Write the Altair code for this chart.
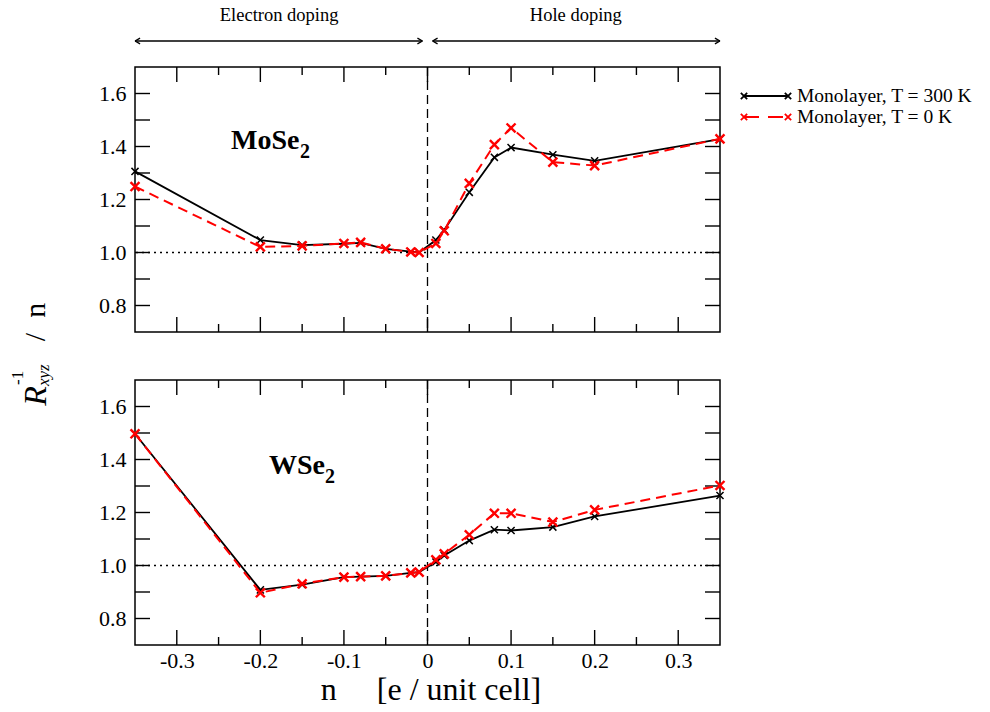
import altair as alt
import pandas as pd

# ---------------- data ----------------
n_vals = [-0.35, -0.2, -0.15, -0.1, -0.08, -0.05, -0.02, -0.01,
          0.01, 0.02, 0.05, 0.08, 0.1, 0.15, 0.2, 0.35]
mose2_T300 = [1.306, 1.047, 1.028, 1.033, 1.036, 1.014, 1.003, 1.000,
              1.047, 1.085, 1.227, 1.359, 1.396, 1.369, 1.346, 1.428]
mose2_T0 = [1.249, 1.021, 1.025, 1.034, 1.038, 1.014, 1.002, 1.000,
            1.034, 1.082, 1.261, 1.407, 1.470, 1.341, 1.328, 1.429]
wse2_T300 = [1.497, 0.908, 0.928, 0.956, 0.958, 0.961, 0.972, 0.975,
             1.013, 1.038, 1.094, 1.135, 1.132, 1.145, 1.185, 1.264]
wse2_T0 = [1.497, 0.897, 0.931, 0.956, 0.958, 0.961, 0.972, 0.975,
           1.021, 1.044, 1.116, 1.197, 1.197, 1.164, 1.210, 1.302]

x_major_ticks = [-0.3, -0.2, -0.1, 0.0, 0.1, 0.2, 0.3]
x_minor_ticks = [-0.25, -0.15, -0.05, 0.05, 0.15, 0.25]
y_ticks = [0.8, 0.9, 1.0, 1.1, 1.2, 1.3, 1.4, 1.5, 1.6]
y_label_values = [0.8, 1.0, 1.2, 1.4, 1.6]
zero_line = [0.0]
unity_line = [1.0]

doping_labels = ["Electron doping", "Hole doping"]
doping_centers = [-0.1775, 0.1775]
arrow_start = [-0.35, 0.006]
arrow_end = [-0.006, 0.35]
legend_labels = ["Monolayer, T = 300 K", "Monolayer, T = 0 K"]
panel_names = ["MoSe", "WSe"]
x_title = "n\u00a0\u00a0\u00a0\u00a0\u00a0[e / unit cell]"

# ---------------- style ----------------
SERIF = "Liberation Serif"
W, H = 585, 265
RED = "#ff0000"
XPATH = "M-1,-1L1,1M-1,1L1,-1"
LEFT_HEAD = "M0,0L1.6,-0.9M0,0L1.6,0.9"
RIGHT_HEAD = "M0,0L-1.6,-0.9M0,0L-1.6,0.9"

xs = alt.Scale(domain=[-0.35, 0.35], nice=False, zero=False)
ys = alt.Scale(domain=[0.7, 1.7], nice=False, zero=False)

LABEL_EXPR = ("datum.value == 0 ? '0' : (datum.value < 0 ? '-' + format(-datum.value, '.1f') "
              ": format(datum.value, '.1f'))")


def x_axis(show):
    if not show:
        return None
    return alt.Axis(values=x_major_ticks, labelExpr=LABEL_EXPR, ticks=False, domain=False,
                    grid=False, labelFont=SERIF, labelFontSize=22, labelColor="black",
                    labelPadding=5, labelFlush=False, labelOverlap=False)


Y_AXIS = alt.Axis(values=y_label_values, format=".1f", ticks=False, domain=False, grid=False,
                  labelFont=SERIF, labelFontSize=22, labelColor="black", labelPadding=9,
                  labelOverlap=False)


def X(field, show):
    return alt.X(f"{field}:Q", scale=xs, axis=x_axis(show), title=None)


def Y(field):
    return alt.Y(f"{field}:Q", scale=ys, axis=Y_AXIS, title=None)


def txt(text, x, y, size, **kw):
    return alt.Chart(pd.DataFrame({"t": [text]})).mark_text(
        font=SERIF, fontSize=size, color="black", **kw
    ).encode(x=alt.value(x), y=alt.value(y), text="t:N")


def panel(v300, v0, show_x, name, name_pos, extra):
    df = pd.DataFrame({"n": n_vals, "v300": v300, "v0": v0})
    dxmaj = pd.DataFrame({"t": x_major_ticks})
    dxmin = pd.DataFrame({"t": x_minor_ticks})
    dyt = pd.DataFrame({"t": y_ticks})
    layers = [
        alt.Chart(pd.DataFrame({"r": unity_line})).mark_rule(
            color="black", strokeWidth=1.3, strokeDash=[2, 4]).encode(y=Y("r")),
        alt.Chart(pd.DataFrame({"z": zero_line})).mark_rule(
            color="black", strokeWidth=1.3, strokeDash=[9, 5]).encode(x=X("z", show_x)),
        alt.Chart(dxmaj).mark_rule(color="black", strokeWidth=1.4).encode(
            x=X("t", show_x), y=alt.value(0), y2=alt.value(15)),
        alt.Chart(dxmaj).mark_rule(color="black", strokeWidth=1.4).encode(
            x=X("t", show_x), y=alt.value(H), y2=alt.value(H - 15)),
        alt.Chart(dxmin).mark_rule(color="black", strokeWidth=1.4).encode(
            x=X("t", show_x), y=alt.value(0), y2=alt.value(8)),
        alt.Chart(dxmin).mark_rule(color="black", strokeWidth=1.4).encode(
            x=X("t", show_x), y=alt.value(H), y2=alt.value(H - 8)),
        alt.Chart(dyt).mark_rule(color="black", strokeWidth=1.4).encode(
            y=Y("t"), x=alt.value(0), x2=alt.value(15)),
        alt.Chart(dyt).mark_rule(color="black", strokeWidth=1.4).encode(
            y=Y("t"), x=alt.value(W), x2=alt.value(W - 15)),
        alt.Chart(df).mark_line(color="black", strokeWidth=1.8).encode(
            x=X("n", show_x), y=Y("v300")),
        alt.Chart(df).mark_point(shape=XPATH, filled=False, color="black", size=50,
                                 strokeWidth=1.5, opacity=1).encode(
            x=X("n", show_x), y=Y("v300")),
        alt.Chart(df).mark_line(color=RED, strokeWidth=2, strokeDash=[10, 6]).encode(
            x=X("n", show_x), y=Y("v0")),
        alt.Chart(df).mark_point(shape=XPATH, filled=False, color=RED, size=80,
                                 strokeWidth=2.4, opacity=1).encode(
            x=X("n", show_x), y=Y("v0")),
        txt(name, name_pos[0], name_pos[1], 28, fontWeight="bold", align="left",
            baseline="alphabetic"),
        txt("2", name_pos[2], name_pos[3], 20, fontWeight="bold", align="left",
            baseline="alphabetic"),
    ]
    return alt.layer(*layers, *extra).properties(width=W, height=H)


# ---------------- top-panel extras: header arrows, legend, y title ----------------
anchor = alt.Chart(pd.DataFrame({"a": [0]})).mark_rect(opacity=0).encode(
    x=alt.value(-134), x2=alt.value(-133), y=alt.value(-66), y2=alt.value(-65))

dop = pd.DataFrame({"c": doping_centers, "label": doping_labels,
                    "s": arrow_start, "e": arrow_end})
header = [
    alt.Chart(dop).mark_text(font=SERIF, fontSize=18.5, color="black", baseline="alphabetic").encode(
        x=X("c", False), y=alt.value(-46), text="label:N"),
    alt.Chart(dop).mark_rule(color="black", strokeWidth=1.4).encode(
        x=X("s", False), x2="e:Q", y=alt.value(-26)),
    alt.Chart(dop).mark_point(shape=LEFT_HEAD, filled=False, color="black", size=40,
                              strokeWidth=1.4, opacity=1).encode(
        x=X("s", False), y=alt.value(-26)),
    alt.Chart(dop).mark_point(shape=RIGHT_HEAD, filled=False, color="black", size=40,
                              strokeWidth=1.4, opacity=1).encode(
        x=X("e", False), y=alt.value(-26)),
]

leg_x0, leg_x1 = 609, 653
legend = []
for i, (lab, col) in enumerate(zip(legend_labels, ["black", RED])):
    yy = 29 + 21 * i
    dsh = {} if i == 0 else {"strokeDash": [15, 9]}
    legend += [
        alt.Chart(pd.DataFrame({"a": [0]})).mark_rule(color=col, strokeWidth=2, **dsh).encode(
            x=alt.value(leg_x0), x2=alt.value(leg_x1), y=alt.value(yy)),
        alt.Chart(pd.DataFrame({"p": [leg_x0, leg_x1]})).mark_point(
            shape=XPATH, filled=False, color=col, size=40, strokeWidth=1.8, opacity=1).encode(
            x=alt.X("p:Q", scale=None, axis=None), y=alt.value(yy)),
        txt(lab, 662, yy, 19.5, align="left", baseline="middle"),
    ]

ytitle = [
    txt("R", -89, 395 - 66, 32, fontStyle="italic", angle=270, align="center",
        baseline="alphabetic"),
    txt("-1", -112, 384 - 66, 17, angle=270, align="left", baseline="alphabetic"),
    txt("xyz", -86, 385 - 66, 17, fontStyle="italic", angle=270, align="left",
        baseline="alphabetic"),
    txt("/\u00a0\u00a0n", -90, 321 - 66, 30, angle=270, align="center", baseline="alphabetic"),
]

top = panel(mose2_T300, mose2_T0, False, panel_names[0], (96, 82, 165, 91),
            [anchor] + header + legend + ytitle)

bottom_extra = [txt(x_title, 296, 320, 32, align="center", baseline="alphabetic")]
bottom = panel(wse2_T300, wse2_T0, True, panel_names[1], (134, 94, 190, 103), bottom_extra)

chart = alt.vconcat(top, bottom, spacing=48, bounds="flush").properties(
    padding={"left": 0, "top": 0, "right": 10, "bottom": 10}
).configure_view(
    stroke="black", strokeWidth=1.5
).configure_axis(
    labelFont=SERIF, labelFontSize=22, labelColor="black"
).configure_text(font=SERIF)

chart.save("out.html", embed_options={"renderer": "svg", "actions": False})
